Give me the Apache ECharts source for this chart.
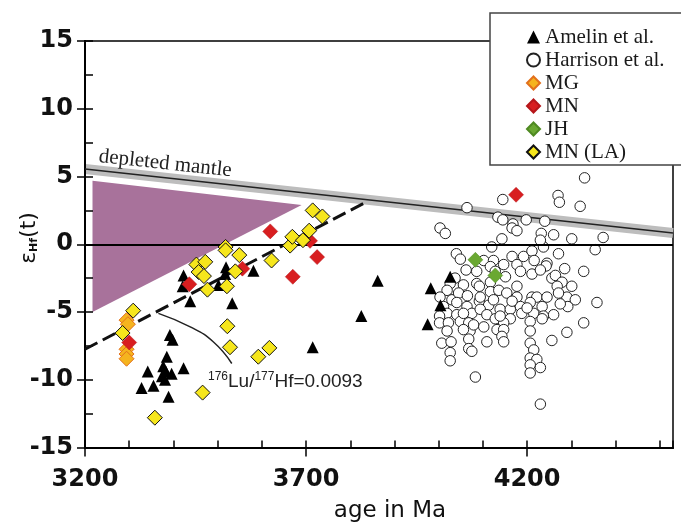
<!DOCTYPE html>
<html><head><meta charset="utf-8">
<script src="https://cdn.jsdelivr.net/npm/echarts@6/dist/echarts.min.js"></script>
<style>html,body{margin:0;padding:0;background:#fff}#c{width:681px;height:523px}</style>
</head><body><div id="c"></div>
<script>
// axis ranges and tick values
const xMin = 3200, xMax = 4530, yMin = -15, yMax = 15;
const xMinorStep = 100;
const xMajorTicks = [3200,3700,4200];

// Amelin et al. (triangles)
const amelin = [[3423,-2.3],[3421,-3.1],[3438,-4.2],[3519,-1.7],[3517,-2.2],[3502,-3.0],[3533,-4.35],
  [3581,-1.95],[3715,-7.6],[3825,-5.3],[3862,-2.7],[3392,-6.7],[3398,-7.05],[3385,-8.3],[3342,-9.4],
  [3377,-9.0],[3383,-9.4],[3396,-9.55],[3381,-10.0],[3423,-9.15],[3328,-10.6],[3355,-10.45],[3389,-11.25],
  [3374,-9.75],[3982,-3.25],[4026,-2.4],[4004,-4.5],[3975,-5.9]];

// Harrison et al. (open circles)
const harrison = [[4330,4.9],[4270,3.6],[4273,3.1],[4145,3.3],[4320,2.8],[4064,2.7],[4134,2.0],[4145,1.8],
  [4198,1.8],[4240,1.7],[4168,1.5],[4166,1.2],[4177,1.0],[4003,1.2],[4015,0.8],[4232,0.8],[4260,0.7],
  [4301,0.4],[4372,0.5],[4143,0.4],[4120,-0.2],[4237,-0.2],[4230,0.3],[4354,-0.4],[4271,-0.7],[4040,-0.7],
  [4049,-1.1],[4102,-1.2],[4124,-1.2],[4147,-1.5],[4166,-0.9],[4192,-0.9],[4211,-0.5],[4216,-1.2],
  [4177,-1.5],[4245,-1.4],[4243,-1.6],[4285,-1.8],[4328,-2.0],[4062,-1.9],[4037,-2.5],[4026,-2.9],
  [4056,-3.0],[4086,-2.9],[4117,-2.8],[4151,-2.4],[4185,-2.0],[4211,-2.2],[4256,-2.5],[4264,-2.3],
  [4279,-2.8],[4268,-3.1],[4301,-3.1],[4019,-3.4],[4003,-3.9],[4030,-4.1],[4045,-3.6],[4065,-3.8],
  [4092,-3.1],[4092,-4.2],[4117,-3.5],[4136,-3.4],[4154,-3.6],[4177,-3.9],[4211,-3.9],[4222,-3.9],
  [4245,-3.9],[4290,-3.9],[4309,-4.1],[4358,-4.3],[4011,-4.6],[4041,-4.3],[4064,-4.6],[4113,-4.5],
  [4139,-4.8],[4162,-4.8],[4185,-4.6],[4207,-4.3],[4234,-4.6],[4271,-3.6],[4292,-4.6],[4019,-5.1],
  [4041,-5.2],[4075,-5.1],[4094,-4.8],[4109,-5.2],[4162,-5.5],[4188,-5.1],[4215,-5.1],[4237,-5.3],
  [4260,-5.2],[4002,-5.3],[4002,-5.8],[4022,-5.8],[4049,-5.7],[4068,-5.8],[4128,-5.5],[4147,-5.8],
  [4207,-5.7],[4234,-5.5],[4328,-5.8],[4019,-6.4],[4071,-6.4],[4132,-6.3],[4147,-6.3],[4143,-6.8],
  [4207,-6.4],[4290,-6.5],[4007,-7.3],[4028,-7.2],[4068,-7.0],[4109,-7.2],[4147,-7.2],[4207,-7.3],
  [4256,-7.1],[4026,-8.0],[4068,-7.7],[4075,-7.9],[4215,-7.8],[4026,-8.6],[4207,-8.4],[4222,-8.5],
  [4207,-8.9],[4230,-9.1],[4207,-9.5],[4083,-9.8],[4230,-11.8],
  [4094,-3.9],[4124,-4.1],[4166,-4.2],[4200,-4.7],[4056,-5.1],[4139,-5.3],[4079,-5.95],[4117,-1.65],
  [4086,-2.0],[4128,-2.0],[4230,-1.9],[4275,-4.4],[4177,-3.1],[4102,-6.1],[4056,-6.3]];

const mg = [[3294,-5.6],[3297,-5.9],[3294,-7.75],[3294,-8.1],[3294,-8.45]];
const mn = [[3300,-7.25],[3436,-2.95],[3556,-1.8],[3619,0.95],[3670,-2.4],[3709,0.25],[3725,-0.95],[4175,3.65]];
const jh = [[4083,-1.15],[4128,-2.3]];
const mnla = [[3309,-4.9],[3285,-6.55],[3452,-1.5],[3472,-1.3],[3457,-2.05],[3469,-2.35],[3477,-3.35],
  [3518,-0.2],[3518,-0.45],[3549,-0.8],[3540,-2.0],[3521,-3.1],[3522,-6.05],[3528,-7.6],[3592,-8.3],
  [3617,-7.65],[3622,-1.2],[3466,-10.95],[3358,-12.8],[3664,-0.1],[3669,0.55],[3693,0.3],[3707,1.0],
  [3715,2.5],[3737,2.05]];

// reference curves
const dmAges = [3200, 4530], dmEps = [5.55, 0.83];
const luAges = [3200, 3838], luEps = [-7.75, 3.15];
const wedgeAges = [3217, 3217, 3690], wedgeEps = [4.68, -5.0, 2.89];
const arcAges = [3366, 3438, 3490, 3532], arcEps = [-5.1, -6.1, -7.2, -8.8];

const zip = (a, b) => a.map((v, i) => [v, b[i]]);
const fontB = 'DejaVu Sans';
const axLine = {show: true, onZero: false, lineStyle: {color: '#000', width: 2}};
const frameLine = {show: true, onZero: false, lineStyle: {color: '#000', width: 1.5}};
const noTick = {show: false}, noLabel = {show: false}, noSplit = {show: false};
const ghostLabel = {show: true, fontSize: 1, color: 'rgba(0,0,0,0)', margin: 0, hideOverlap: false,
  showMinLabel: true, showMaxLabel: true, formatter: v => String(v)};
const gridBox = {left: 85, top: 41, width: 588, height: 406.5, show: false};

const chart = echarts.init(document.getElementById('c'), null, {renderer: 'canvas'});
chart.setOption({
  backgroundColor: '#fff',
  animation: false,
  grid: [Object.assign({}, gridBox), Object.assign({}, gridBox)],
  xAxis: [
    {gridIndex: 0, type: 'value', position: 'bottom', min: xMin, max: xMax, axisLine: axLine, z: 3,
     axisTick: {show: true, inside: false, length: 9, customValues: xMajorTicks, lineStyle: {color: '#000', width: 1.5}},
     axisLabel: {show: true, customValues: xMajorTicks, formatter: v => String(v), fontFamily: fontB, fontWeight: 'bold', fontSize: 24, color: '#111', margin: 20},
     splitLine: noSplit},
    {gridIndex: 0, type: 'value', position: 'top', min: xMin, max: xMax, axisLine: frameLine, axisTick: noTick, axisLabel: noLabel, splitLine: noSplit},
    {gridIndex: 1, type: 'value', position: 'bottom', min: xMin, max: xMax, interval: xMinorStep, axisLine: axLine, z: 3,
     axisTick: {show: true, inside: true, length: 7, lineStyle: {color: '#000', width: 1.5}},
     axisLabel: ghostLabel, splitLine: noSplit}
  ],
  yAxis: [
    {gridIndex: 0, type: 'value', position: 'left', min: yMin, max: yMax, interval: 5, axisLine: axLine, z: 3,
     axisTick: {show: true, inside: false, length: 8, lineStyle: {color: '#000', width: 1.5}},
     axisLabel: {show: true, formatter: v => String(v), fontFamily: fontB, fontWeight: 'bold', fontSize: 24, color: '#111', margin: 12}, splitLine: noSplit},
    {gridIndex: 0, type: 'value', position: 'right', min: yMin, max: yMax, axisLine: frameLine, axisTick: noTick, axisLabel: noLabel, splitLine: noSplit},
    {gridIndex: 1, type: 'value', position: 'left', min: yMin, max: yMax, interval: 2.5, axisLine: axLine, z: 3,
     axisTick: {show: true, inside: true, length: 8, lineStyle: {color: '#000', width: 1.5}}, axisLabel: ghostLabel, splitLine: noSplit}
  ],
  legend: {
    orient: 'vertical', left: 521, top: 21, itemWidth: 13, itemHeight: 13, itemGap: 1, z: 120,
    textStyle: {fontFamily: 'Liberation Serif', fontSize: 21, color: '#1a1a1a', lineHeight: 22},
    data: ['Amelin et al.', 'Harrison et al.', 'MG', 'MN', 'JH', 'MN (LA)']
  },
  graphic: [
    {type: 'rect', z: 100, shape: {x: 490, y: 13, width: 210, height: 152}, style: {fill: '#fff', stroke: '#444', lineWidth: 1.5}},
    {type: 'text', z: 50, x: 100, y: 146, rotation: -0.108,
     style: {text: 'depleted mantle', fontFamily: 'Liberation Serif', fontSize: 21, fill: '#222'}},
    {type: 'text', z: 50, x: 208, y: 371,
     style: {text: '{s|176}{n|Lu/}{s|177}{n|Hf=0.0093}', fill: '#222',
       rich: {s: {fontFamily: 'Liberation Sans', fontSize: 12, verticalAlign: 'top', lineHeight: 22, padding: [0,0,8,0]},
              n: {fontFamily: 'Liberation Sans', fontSize: 19, lineHeight: 22}}}},
    {type: 'text', z: 50, x: 29, y: 238, rotation: Math.PI / 2,
     style: {text: '{e|ε}{h|Hf}{e|(t)}', align: 'center', verticalAlign: 'middle', fill: '#111',
       rich: {e: {fontFamily: 'DejaVu Sans', fontSize: 22, lineHeight: 26},
              h: {fontFamily: 'DejaVu Sans', fontWeight: 'bold', fontSize: 11, lineHeight: 26, padding: [10,0,0,0]}}}},
    {type: 'text', z: 50, x: 390, y: 511,
     style: {text: 'age in Ma', align: 'center', verticalAlign: 'middle', fontFamily: 'DejaVu Sans', fontSize: 23, fill: '#111'}}
  ],
  series: [
    {type: 'custom', name: 'wedge', z: 1, data: zip(wedgeAges, wedgeEps), encode: {x: 0, y: 1},
     renderItem: (params, api) => {
       if (params.dataIndex !== 0) return null;
       const pts = zip(wedgeAges, wedgeEps).map(p => api.coord(p));
       return {type: 'polygon', shape: {points: pts}, style: {fill: '#a8729b'}};
     }},
    {type: 'line', name: 'dmband', z: 2, data: zip(dmAges, dmEps), symbol: 'none', silent: true,
     lineStyle: {color: '#bdbdbd', width: 10},
     markLine: {silent: true, symbol: 'none', label: {show: false}, lineStyle: {color: '#000', width: 2, type: 'solid'}, data: [{yAxis: 0}]}},
    {type: 'line', name: 'dm', z: 3, data: zip(dmAges, dmEps), symbol: 'none', silent: true, lineStyle: {color: '#222', width: 1.5}},
    {type: 'line', name: 'lu', z: 3, data: zip(luAges, luEps), symbol: 'none', silent: true,
     lineStyle: {color: '#111', width: 3, type: [14, 6]}},
    {type: 'line', name: 'arc', z: 3, data: zip(arcAges, arcEps), symbol: 'none', smooth: true, silent: true,
     lineStyle: {color: '#222', width: 1.5}},
    {type: 'scatter', name: 'Harrison et al.', z: 4, data: harrison, symbol: 'circle', symbolSize: 10.5,
     itemStyle: {color: '#fff', borderColor: '#222', borderWidth: 1, opacity: 1}},
    {type: 'scatter', name: 'Amelin et al.', z: 5, data: amelin, symbol: 'triangle', symbolSize: 12,
     itemStyle: {color: '#000', opacity: 1}},
    {type: 'scatter', name: 'MG', z: 6, data: mg, symbol: 'diamond', symbolSize: 15,
     itemStyle: {color: '#f5b41e', borderColor: '#e2701c', borderWidth: 1, opacity: 1}},
    {type: 'scatter', name: 'MN', z: 7, data: mn, symbol: 'diamond', symbolSize: 15,
     itemStyle: {color: '#d81e20', borderColor: '#b5161a', borderWidth: 0.5, opacity: 1}},
    {type: 'scatter', name: 'JH', z: 7, data: jh, symbol: 'diamond', symbolSize: 15,
     itemStyle: {color: '#6aa832', borderColor: '#4f8a22', borderWidth: 0.5, opacity: 1}},
    {type: 'scatter', name: 'MN (LA)', z: 8, data: mnla, symbol: 'diamond', symbolSize: 15,
     itemStyle: {color: '#f6e61c', borderColor: '#111', borderWidth: 1, opacity: 1}}
  ]
});
</script></body></html>
